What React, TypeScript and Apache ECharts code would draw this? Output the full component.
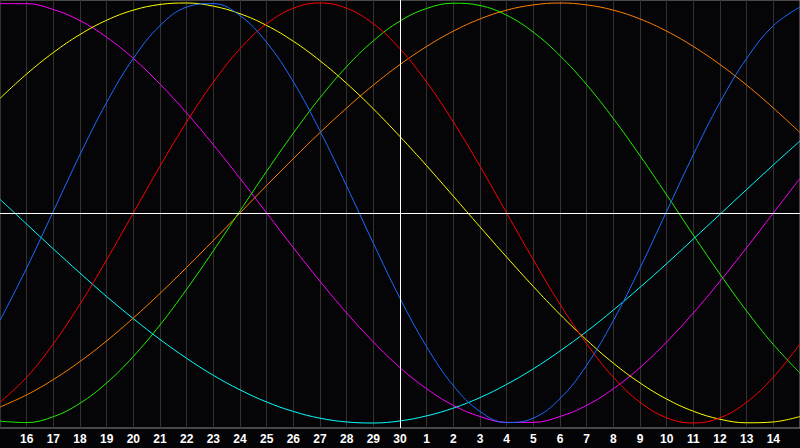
import React, { useEffect, useRef } from 'react'
import * as echarts from 'echarts'

// day labels, one per grid line (15th .. next 15th)
const days = [
    '15', '16', '17', '18', '19', '20', '21', '22', '23', '24', '25', '26', '27', '28', '29', '30',
    '1', '2', '3', '4', '5', '6', '7', '8', '9', '10', '11', '12', '13', '14', '15',
]

const blue = [
    -0.512, -0.262, 0.008, 0.278, 0.527, 0.736, 0.892, 0.981, 0.997, 0.94, 0.812, 0.625, 0.391, 0.128, -0.144, -0.406,
    -0.637, -0.822, -0.945, -0.998, -0.977, -0.884, -0.725, -0.512, -0.262, 0.008, 0.278, 0.527, 0.736, 0.892, 0.981,
]
const red = [
    -0.901, -0.782, -0.623, -0.434, -0.223, 0.0, 0.223, 0.434, 0.623, 0.782, 0.901, 0.975, 1.0, 0.975, 0.901, 0.782,
    0.623, 0.434, 0.223, 0.0, -0.223, -0.434, -0.623, -0.782, -0.901, -0.975, -1.0, -0.975, -0.901, -0.782, -0.623,
]
const green = [
    -0.991, -0.998, -0.97, -0.906, -0.809, -0.683, -0.533, -0.363, -0.18, 0.01, 0.199, 0.38, 0.549, 0.697, 0.82, 0.914,
    0.974, 0.999, 0.988, 0.942, 0.861, 0.749, 0.611, 0.45, 0.273, 0.086, -0.105, -0.291, -0.467, -0.626, -0.762,
]
const magenta = [
    0.997, 0.997, 0.969, 0.916, 0.837, 0.736, 0.614, 0.476, 0.325, 0.165, 0.0, -0.165, -0.325, -0.476, -0.614, -0.736,
    -0.837, -0.916, -0.969, -0.997, -0.997, -0.969, -0.916, -0.837, -0.736, -0.614, -0.476, -0.325, -0.165, 0.0, 0.165,
]
const orange = [
    -0.924, -0.866, -0.793, -0.707, -0.609, -0.5, -0.383, -0.259, -0.131, 0.0, 0.131, 0.259, 0.383, 0.5, 0.609, 0.707,
    0.793, 0.866, 0.924, 0.966, 0.991, 1.0, 0.991, 0.966, 0.924, 0.866, 0.793, 0.707, 0.609, 0.5, 0.383,
]
const yellow = [
    0.546, 0.662, 0.764, 0.85, 0.918, 0.966, 0.993, 1.0, 0.985, 0.949, 0.893, 0.818, 0.725, 0.617, 0.496, 0.364,
    0.225, 0.08, -0.066, -0.21, -0.35, -0.483, -0.605, -0.715, -0.809, -0.886, -0.944, -0.982, -0.999, -0.995, -0.969,
]
const cyan = [
    0.065, -0.053, -0.171, -0.286, -0.398, -0.503, -0.602, -0.692, -0.773, -0.842, -0.9, -0.945, -0.977, -0.995, -1.0, -0.99,
    -0.966, -0.929, -0.879, -0.816, -0.742, -0.657, -0.564, -0.462, -0.354, -0.241, -0.124, -0.006, 0.112, 0.229, 0.343,
]

const curves: Array<{ name: string; color: string; values: number[] }> = [
    { name: 'cyan', color: '#00ffff', values: cyan },
    { name: 'orange', color: '#ff8000', values: orange },
    { name: 'magenta', color: '#ff00ff', values: magenta },
    { name: 'yellow', color: '#ffff00', values: yellow },
    { name: 'green', color: '#22f000', values: green },
    { name: 'red', color: '#ff0000', values: red },
    { name: 'blue', color: '#1a6cff', values: blue },
]

const App: React.FC = () => {
    const chartRef = useRef<HTMLDivElement | null>(null)

    useEffect(() => {
        document.body.style.margin = '0'
        if (!chartRef.current) return
        const chart = echarts.init(chartRef.current, null, { renderer: 'svg' })

        const series: any[] = curves.map((c) => ({
            name: c.name,
            type: 'line',
            smooth: 0.4,
            symbol: 'none',
            silent: true,
            lineStyle: { color: c.color, width: 1 },
            data: c.values.map((v, i) => [i, v]),
        }))

        // white cross at today / zero
        series.push({
            type: 'line',
            data: [],
            markLine: {
                silent: true,
                symbol: 'none',
                label: { show: false },
                lineStyle: { color: '#ffffff', width: 1, type: 'solid' },
                data: [{ xAxis: 15 }, { yAxis: 0 }],
            },
        })

        chart.setOption({
            animation: false,
            backgroundColor: '#040406',
            grid: {
                left: 0,
                right: 0,
                top: 0,
                bottom: 20,
                show: true,
                borderColor: '#8c8c8c',
                borderWidth: 1,
                backgroundColor: '#050508',
            },
            xAxis: {
                type: 'value',
                min: 0,
                max: days.length - 1,
                interval: 1,
                axisLine: { show: true, lineStyle: { color: '#b4b4b4', width: 1 } },
                axisTick: { show: false },
                splitLine: { show: true, lineStyle: { color: '#333333', width: 1 } },
                axisLabel: {
                    showMinLabel: false,
                    showMaxLabel: false,
                    margin: 5,
                    color: '#ffffff',
                    fontFamily: 'Liberation Sans',
                    fontWeight: 'bold',
                    fontSize: 12,
                    formatter: (val: number) => days[val] ?? '',
                },
            },
            yAxis: {
                type: 'value',
                min: -1.0238,
                max: 1.0143,
                show: false,
                splitLine: { show: false },
            },
            series,
        })

        return () => {
            chart.dispose()
        }
    }, [])

    return <div ref={chartRef} style={{ width: '800px', height: '448px' }} />
}

export default App
